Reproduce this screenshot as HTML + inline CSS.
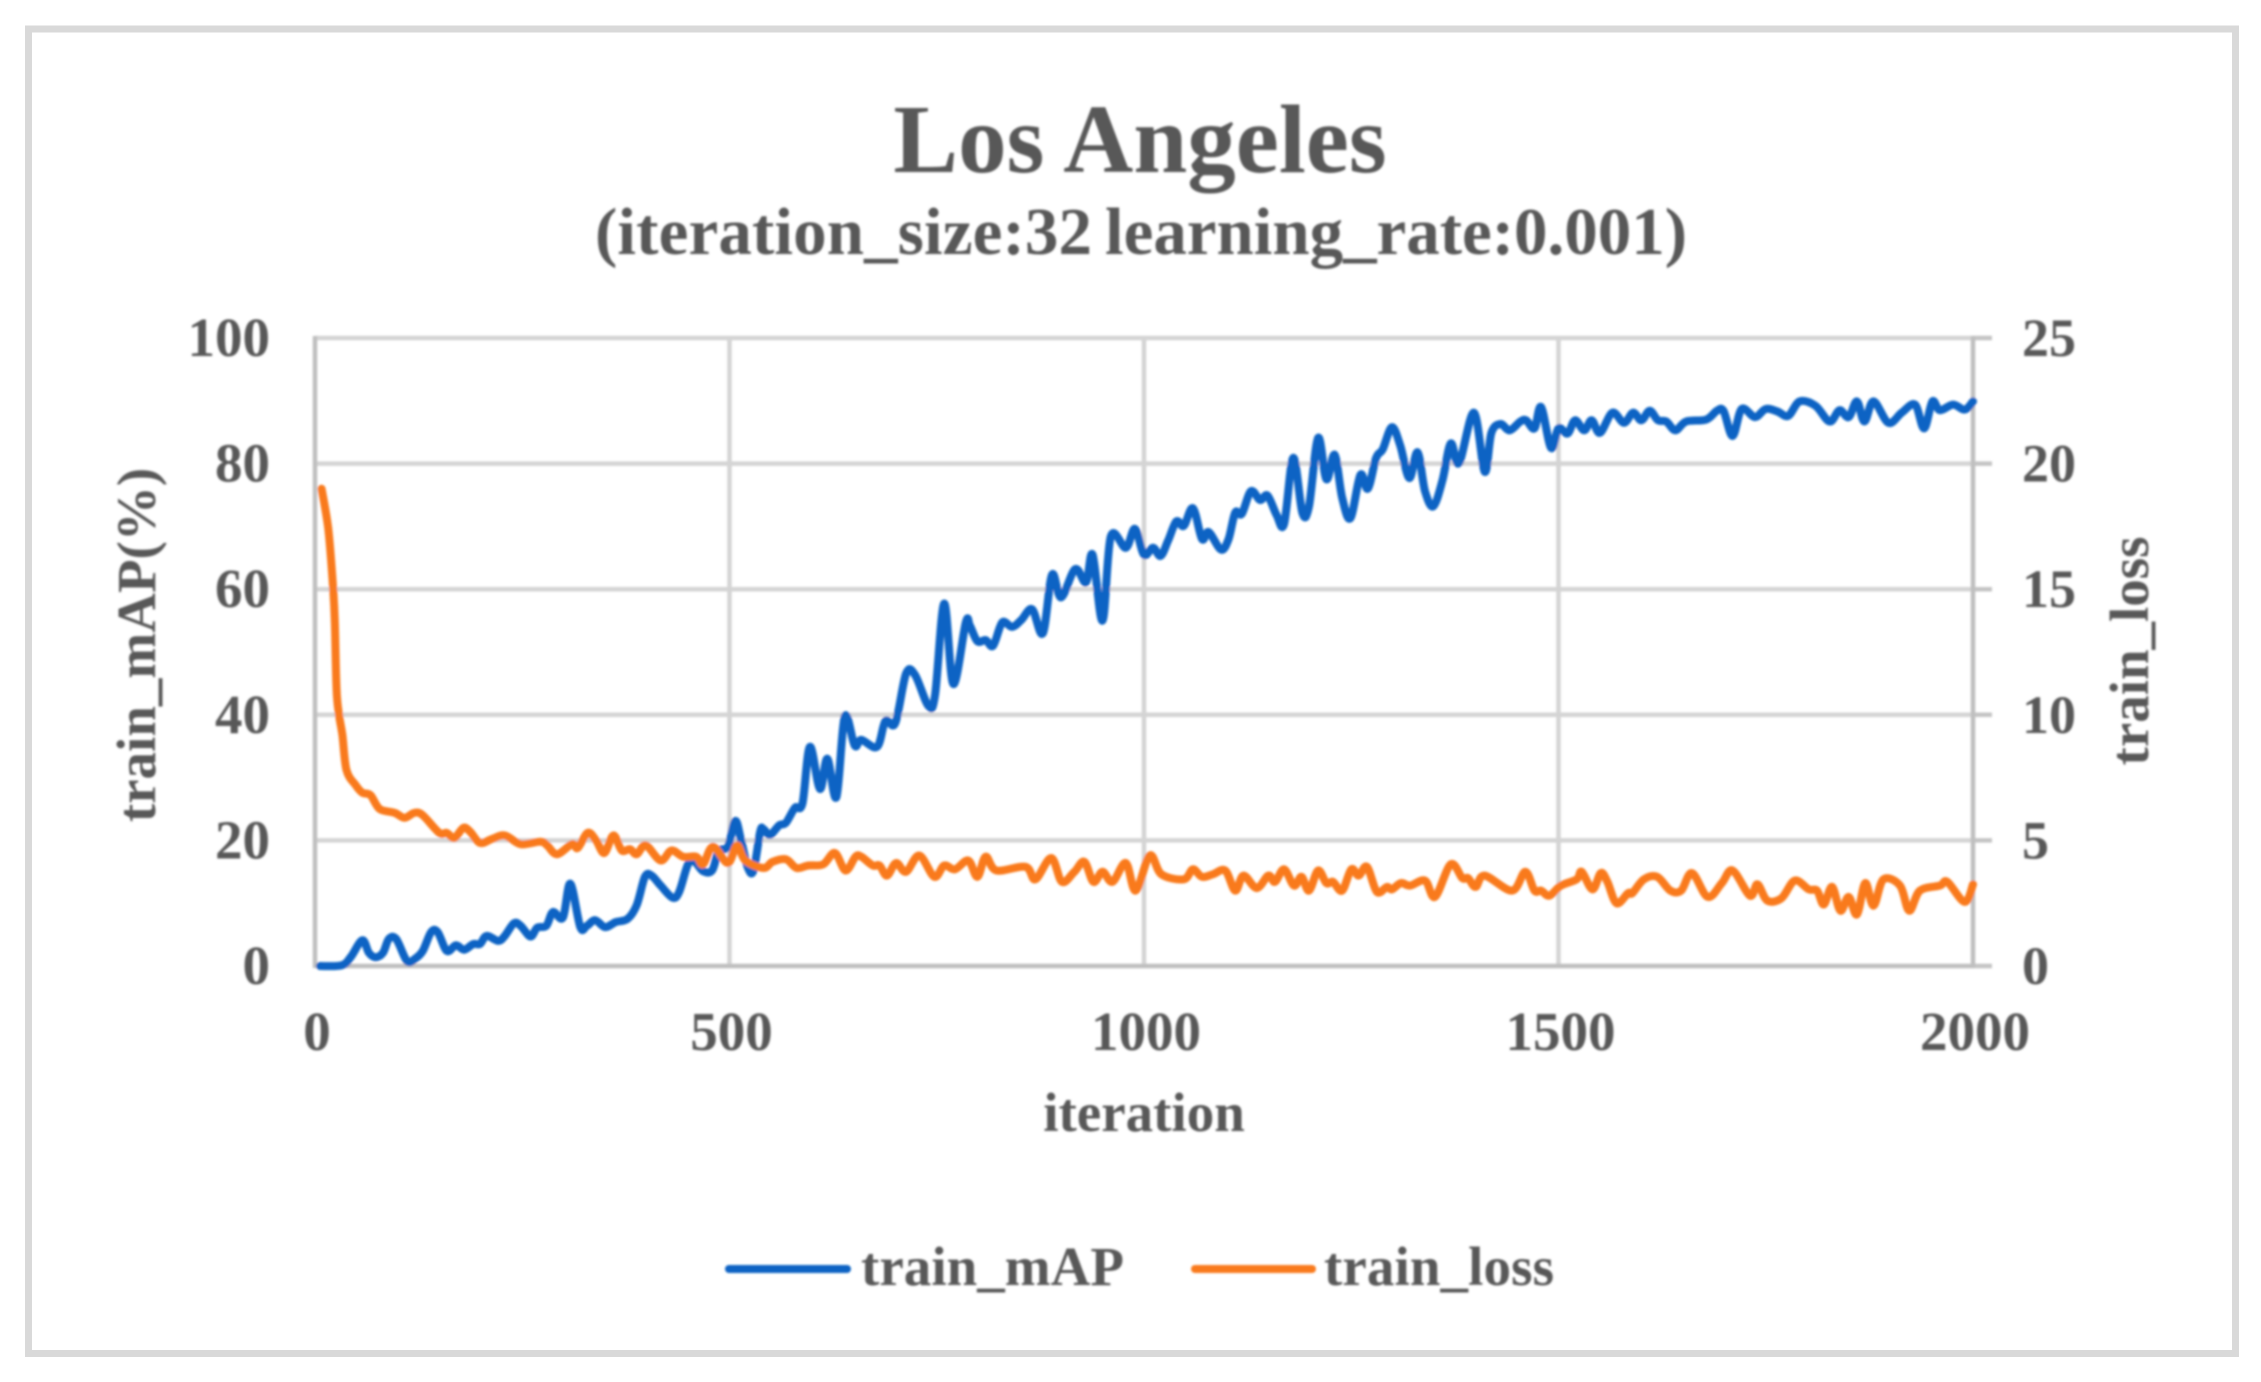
<!DOCTYPE html>
<html>
<head>
<meta charset="utf-8">
<title>Los Angeles training chart</title>
<style>
html,body{margin:0;padding:0;background:#fff;width:2261px;height:1382px;overflow:hidden}
svg{display:block}
text{font-family:"Liberation Serif",serif;font-weight:bold;fill:#595959}
</style>
</head>
<body>
<svg id="chart" xmlns="http://www.w3.org/2000/svg" width="2261" height="1382" viewBox="0 0 2261 1382">
  <defs><filter id="soft" x="-5%" y="-5%" width="110%" height="110%"><feGaussianBlur stdDeviation="1"/></filter></defs>
  <rect x="28.5" y="29" width="2207" height="1324.5" fill="#fff" stroke="#d9d9d9" stroke-width="7"/>
  <g id="root" filter="url(#soft)">
    <g id="grid"></g>
    <g id="axes"></g>
    <g id="series"></g>
    <g id="labels"></g>
    <text x="1140" y="172" font-size="97" text-anchor="middle">Los Angeles</text>
    <text y="254" font-size="67"><tspan x="595" textLength="497" lengthAdjust="spacing">(iteration_size:32</tspan><tspan x="1105" textLength="582" lengthAdjust="spacing">learning_rate:0.001)</tspan></text>
    <text x="1144" y="1131" font-size="55" text-anchor="middle">iteration</text>
    <text transform="translate(155,645) rotate(-90)" font-size="55" text-anchor="middle">train_mAP(%)</text>
    <text transform="translate(2148,651) rotate(-90)" font-size="55" text-anchor="middle" textLength="229" lengthAdjust="spacing">train_loss</text>
    <g>
      <line x1="729" y1="1269" x2="847" y2="1269" stroke="#0f64c4" stroke-width="8" stroke-linecap="round"/>
      <text x="861" y="1285" font-size="55" textLength="263" lengthAdjust="spacing">train_mAP</text>
      <line x1="1195" y1="1269" x2="1312" y2="1269" stroke="#f97a1c" stroke-width="8" stroke-linecap="round"/>
      <text x="1324" y="1285" font-size="55" textLength="230" lengthAdjust="spacing">train_loss</text>
    </g>
  </g>
</svg>
<script>
const xTickValues = [0, 500, 1000, 1500, 2000];
const leftTickValues = [0, 20, 40, 60, 80, 100];
const rightTickValues = [0, 5, 10, 15, 20, 25];

const mapIterations = [6,32,43,57,65,73,82,89,98,111,121,130,140,148,159,170,180,191,199,207,221,229,240,248,260,268,279,287,299,308,320,328,338,350,363,377,388,398,406,417,431,439,450,458,468,479,487,498,507,514,522,529,537,541,549,560,568,579,588,597,609,618,629,639,651,659,678,688,700,713,724,740,748,759,770,785,790,799,809,818,829,841,852,865,878,889,900,917,930,938,950,960,978,989,1000,1011,1020,1029,1039,1048,1059,1070,1078,1093,1102,1110,1118,1129,1140,1149,1160,1169,1180,1191,1199,1210,1220,1230,1239,1249,1261,1270,1280,1288,1299,1309,1320,1330,1339,1349,1360,1370,1380,1398,1411,1419,1430,1441,1454,1461,1471,1479,1491,1500,1511,1520,1531,1540,1550,1565,1579,1590,1600,1610,1620,1630,1641,1654,1678,1691,1699,1710,1721,1737,1750,1764,1777,1791,1810,1827,1839,1850,1860,1869,1880,1898,1914,1930,1941,1951,1960,1976,1990,2000];
const mapValues = [0,0.1,1.4,4.1,2.1,1.4,2.1,4.3,4.3,0.8,1.2,2.4,5.4,5.4,2.4,3.3,2.6,3.5,3.5,4.8,4.0,4.8,6.8,6.4,4.7,6.1,6.4,8.6,7.7,13.1,6.2,6.4,7.3,6.2,7.0,7.5,9.7,14.2,14.4,12.8,10.9,11.7,16.2,16.6,15.1,15.2,18.3,19.0,23.1,20.0,15.7,15.2,21.4,21.8,20.9,22.4,22.8,25.2,25.9,34.9,28.2,33.0,26.9,39.7,35.1,36.0,34.9,39.0,38.7,46.6,46.3,41.4,43.2,57.7,44.9,54.7,54.2,51.7,51.9,51.0,54.7,54.0,55.1,56.8,53.0,62.3,58.7,63.2,61.1,65.5,55.0,68.4,66.6,69.6,65.5,66.6,65.3,67.7,70.8,70.1,72.9,68.0,69.1,66.3,68.0,72.2,72.0,75.6,74.2,74.9,71.8,70.4,80.9,72.2,73.2,84.1,77.5,81.4,74.6,71.3,78.2,76.0,80.9,82.3,85.8,82.9,77.7,81.8,75.6,73.2,77.3,83.2,80.1,88.1,78.7,84.9,86.3,85.3,86.7,86.9,85.6,89.0,82.5,85.6,84.8,86.9,85.3,86.9,84.9,88.1,86.5,88.1,86.9,88.4,86.9,86.7,85.3,86.7,87.0,88.4,88.4,84.4,88.7,87.4,88.7,88.3,87.6,89.9,89.2,86.7,88.5,87.4,89.9,86.7,89.9,86.5,88.1,89.4,85.6,89.9,88.5,89.4,88.6,89.9];

const lossIterations = [8,16,22,24,26,29,33,38,49,57,67,78,96,108,120,130,150,159,168,179,187,199,213,229,248,272,280,292,310,317,329,339,349,360,370,380,388,399,417,430,444,460,468,480,498,509,519,541,552,568,581,595,613,627,640,652,659,673,681,690,701,713,729,747,759,772,788,799,809,822,857,869,888,901,916,928,939,950,962,978,990,1007,1021,1048,1059,1070,1083,1098,1110,1120,1136,1150,1158,1169,1181,1190,1199,1210,1220,1228,1239,1250,1259,1269,1281,1293,1299,1310,1321,1339,1351,1370,1384,1391,1400,1411,1444,1460,1471,1479,1489,1503,1522,1528,1541,1551,1559,1570,1584,1589,1603,1619,1635,1648,1661,1680,1697,1710,1731,1740,1752,1769,1785,1802,1812,1820,1830,1840,1850,1860,1870,1880,1892,1912,1923,1936,1960,1969,1990,2000];
const lossValues = [19.0,17.4,15.0,13.6,11.0,10.0,9.2,7.8,7.2,6.9,6.8,6.25,6.1,5.9,6.1,6.0,5.3,5.3,5.1,5.5,5.35,4.9,5.05,5.2,4.85,4.95,4.8,4.45,4.85,4.7,5.3,5.0,4.5,5.2,4.6,4.65,4.45,4.8,4.2,4.6,4.35,4.35,4.05,4.75,4.1,4.8,4.2,3.9,4.15,4.25,3.9,4.0,4.05,4.5,3.8,4.35,4.35,4.0,4.0,3.6,4.1,3.75,4.4,3.55,4.0,3.85,4.2,3.55,4.35,3.8,3.95,3.45,4.3,3.35,3.75,4.15,3.35,3.75,3.35,4.1,3.0,4.4,3.65,3.45,3.85,3.55,3.65,3.8,3.0,3.6,3.1,3.6,3.35,3.85,3.2,3.55,3.0,3.8,3.3,3.35,3.0,3.85,3.6,3.95,2.95,3.15,3.05,3.3,3.2,3.4,2.75,4.05,3.5,3.5,3.15,3.6,3.0,3.75,3.0,3.0,2.8,3.2,3.45,3.75,3.05,3.7,3.35,2.5,2.9,2.9,3.45,3.55,3.0,3.0,3.7,2.75,3.3,3.8,2.8,3.25,2.6,2.7,3.4,3.05,3.0,2.45,3.15,2.2,2.75,2.05,3.3,2.4,3.45,3.2,2.2,3.0,3.2,3.35,2.55,3.25];

const SVG_NS = 'http://www.w3.org/2000/svg';
const plotLeft = 315, plotRight = 1973, plotTop = 338, plotBottom = 966;
const xScale = v => plotLeft + (v / 2000) * (plotRight - plotLeft);
const yLeftScale = v => plotBottom - (v / 100) * (plotBottom - plotTop);
const yRightScale = v => plotBottom - (v / 25) * (plotBottom - plotTop);

function makeEl(tag, parentId) {
  const el = document.createElementNS(SVG_NS, tag);
  document.getElementById(parentId).appendChild(el);
  return el;
}
function setLine(el, x1, y1, x2, y2, color, width) {
  el.setAttribute('x1', x1);
  el.setAttribute('y1', y1);
  el.setAttribute('x2', x2);
  el.setAttribute('y2', y2);
  el.setAttribute('stroke', color);
  el.setAttribute('stroke-width', width);
}
function setText(el, x, y, anchor, size, content) {
  el.setAttribute('x', x);
  el.setAttribute('y', y);
  el.setAttribute('font-size', size);
  el.setAttribute('text-anchor', anchor);
  el.textContent = content;
}
function smoothPath(xs, ys, yScale) {
  const pts = xs.map((x, i) => [xScale(x), yScale(ys[i])]);
  let d = 'M' + pts[0][0].toFixed(1) + ' ' + pts[0][1].toFixed(1);
  for (let i = 0; i < pts.length - 1; i++) {
    const p0 = pts[Math.max(0, i - 1)], p1 = pts[i], p2 = pts[i + 1], p3 = pts[Math.min(pts.length - 1, i + 2)];
    const c1x = p1[0] + (p2[0] - p0[0]) / 6, c1y = p1[1] + (p2[1] - p0[1]) / 6;
    const c2x = p2[0] - (p3[0] - p1[0]) / 6, c2y = p2[1] - (p3[1] - p1[1]) / 6;
    d += 'C' + c1x.toFixed(1) + ' ' + c1y.toFixed(1) + ' ' + c2x.toFixed(1) + ' ' + c2y.toFixed(1) + ' ' + p2[0].toFixed(1) + ' ' + p2[1].toFixed(1);
  }
  return d;
}

leftTickValues.forEach((v, i) => {
  const y = yLeftScale(v);
  if (v !== 0) {
    const g = makeEl('line', 'grid');
    
    
    setLine(g, plotLeft, y, plotRight, y, '#d4d4d4', 4.5);
  }
  const t = makeEl('text', 'labels');
  
  
  setText(t, 270, y + 18, 'end', 55, String(v));
  const ry = yRightScale(rightTickValues[i]);
  const tick = makeEl('line', 'axes');
  
  
  setLine(tick, plotRight, ry, plotRight + 19, ry, '#c4c4c4', 4.5);
  const rt = makeEl('text', 'labels');
  
  
  setText(rt, 2022, ry + 18, 'start', 54, String(rightTickValues[i]));
});

xTickValues.forEach(v => {
  const x = xScale(v);
  if (v !== 0 && v !== 2000) {
    const g = makeEl('line', 'grid');
    
    
    setLine(g, x, plotTop, x, plotBottom, '#d4d4d4', 4.5);
  }
  const t = makeEl('text', 'labels');
  
  
  setText(t, x + 2, 1050, 'middle', 55, String(v));
});

const axisLeft = makeEl('line', 'axes');


setLine(axisLeft, plotLeft, plotTop - 2, plotLeft, plotBottom + 2, '#bfbfbf', 4.5);
const axisRight = makeEl('line', 'axes');


setLine(axisRight, plotRight, plotTop - 2, plotRight, plotBottom + 2, '#bfbfbf', 4.5);
const axisBottom = makeEl('line', 'axes');


setLine(axisBottom, plotLeft, plotBottom, plotRight, plotBottom, '#bfbfbf', 4.5);

const mapLine = makeEl('path', 'series');


mapLine.setAttribute('d', smoothPath(mapIterations, mapValues, yLeftScale));
mapLine.setAttribute('fill', 'none');
mapLine.setAttribute('stroke', '#0f64c4');
mapLine.setAttribute('stroke-width', 8);
mapLine.setAttribute('stroke-linejoin', 'round');
mapLine.setAttribute('stroke-linecap', 'round');

const lossLine = makeEl('path', 'series');


lossLine.setAttribute('d', smoothPath(lossIterations, lossValues, yRightScale));
lossLine.setAttribute('fill', 'none');
lossLine.setAttribute('stroke', '#f97a1c');
lossLine.setAttribute('stroke-width', 8);
lossLine.setAttribute('stroke-linejoin', 'round');
lossLine.setAttribute('stroke-linecap', 'round');
</script>
</body>
</html>
